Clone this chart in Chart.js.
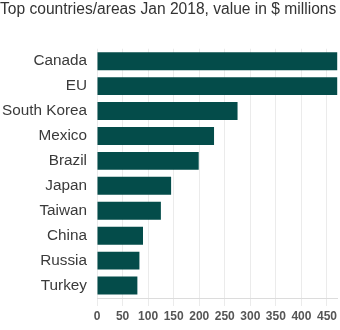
<!DOCTYPE html>
<html>
<head>
  <title>Top countries/areas Jan 2018</title>
  <script src="https://cdn.jsdelivr.net/npm/chart.js"></script>
  <style>
    body { margin: 0; background: #fff; }
    #wrap { width: 340px; height: 330px; }
  </style>
</head>
<body>
  <div id="wrap"><canvas id="barChart"></canvas></div>

  <script>
    // values in $ millions (Canada and EU run past the axis, estimated)
    var countries = ['Canada', 'EU', 'South Korea', 'Mexico', 'Brazil', 'Japan', 'Taiwan', 'China', 'Russia', 'Turkey'];
    var values = [481, 474, 275, 229, 199, 145, 125, 90, 83, 79];
    var axisMax = 470;
    var tickStep = 50;

    var ctx = document.getElementById('barChart').getContext('2d');

    var barChart = new Chart(ctx, {
      type: 'bar',
      data: {
        labels: countries,
        datasets: [{
          data: values,
          backgroundColor: '#044c4a',
          borderWidth: 0,
          barPercentage: 0.72,
          categoryPercentage: 1
        }]
      },
      options: {
        indexAxis: 'y',
        responsive: true,
        maintainAspectRatio: false,
        animation: false,
        layout: { padding: 0 },
        plugins: {
          legend: { display: false },
          tooltip: { enabled: false },
          title: {
            display: true,
            text: 'Top countries/areas Jan 2018, value in $ millions',
            align: 'start',
            color: '#333',
            font: { family: 'Arial, "Liberation Sans", sans-serif', size: 15.6, weight: 'normal', lineHeight: 1.2 },
            padding: { top: 0, bottom: 30 }
          }
        },
        scales: {
          x: {
            min: 0,
            max: axisMax,
            grid: { color: '#ebebeb', tickLength: 8 },
            border: { color: '#dcdcdc' },
            ticks: {
              stepSize: tickStep,
              includeBounds: false,
              maxRotation: 0,
              padding: 3,
              color: '#555',
              font: { family: 'Arial, "Liberation Sans", sans-serif', size: 12, weight: 'bold' }
            },
            afterFit: function(scale) { scale.height = 32; }
          },
          y: {
            grid: { display: false, drawTicks: false },
            border: { display: false },
            ticks: {
              padding: 10,
              color: '#3a3a3a',
              font: { family: 'Arial, "Liberation Sans", sans-serif', size: 15.3 }
            },
            afterFit: function(scale) { scale.width = 97; }
          }
        }
      }
    });
  </script>
</body>
</html>
